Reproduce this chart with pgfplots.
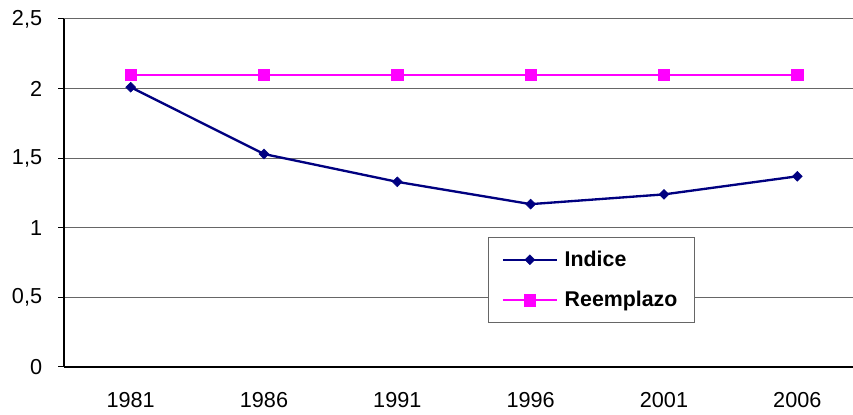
\documentclass[border=0pt]{standalone}
\usepackage{pgfplots}
\pgfplotsset{compat=1.18}
\usepackage{fontspec}
\setmainfont{Liberation Sans}
\definecolor{navyc}{RGB}{0,0,128}
\definecolor{magc}{RGB}{255,0,255}
\begin{document}
\begin{tikzpicture}
\path[use as bounding box] (0,0) rectangle (511.8pt,249pt);
\clip (0,0) rectangle (511.8pt,249pt);
\begin{axis}[
  at={(38.4pt,28.8pt)}, anchor=south west,
  scale only axis, width=480pt, height=208.8pt,
  xmin=-0.5, xmax=5.5, ymin=0, ymax=2.5,
  axis x line=bottom, axis y line=left,
  axis line style={-, black, line width=0.8pt},
  xtick={0,1,2,3,4,5},
  xticklabels={1981,1986,1991,1996,2001,2006},
  xtick style={draw=none},
  minor xtick={-0.5,0.5,1.5,2.5,3.5,4.5,5.5},
  minor x tick style={gray!70!black, line width=0.6pt},
  minor tick length=3pt,
  ytick={0,0.5,1,1.5,2,2.5},
  yticklabels={0,{0,5},1,{1,5},2,{2,5}},
  major tick length=3.6pt,
  tick align=outside,
  ytick style={black, line width=0.6pt},
  ymajorgrids,
  grid style={gray!80!black, line width=0.6pt},
  tick label style={font=\fontsize{13}{15}\selectfont},
  xticklabel style={yshift=-8pt},
  yticklabel style={xshift=-6pt},
  legend style={at={(0.53,0.3736)}, anchor=north west,
    draw=gray!80!black, line width=0.5pt,
    font=\fontsize{12.8}{15}\bfseries,
    inner xsep=8pt, inner ysep=6pt, row sep=9.5pt, column sep=2pt,
    cells={anchor=west}},
  legend image code/.code={%
    \draw[mark repeat=2,mark phase=2,#1] plot coordinates {(0pt,0pt) (16.2pt,0pt) (32.4pt,0pt)};},
]
\addplot[navyc, line width=1.4pt, mark=square*, mark size=2.1pt, mark options={rotate=45, fill=navyc, line width=0.3pt}]
  coordinates {(0,2.01) (1,1.53) (2,1.33) (3,1.17) (4,1.24) (5,1.37)};
\addlegendentry{Indice}
\addplot[magc, line width=1.4pt, mark=square*, mark size=3.4pt, mark options={fill=magc, line width=0.3pt}]
  coordinates {(0,2.1) (1,2.1) (2,2.1) (3,2.1) (4,2.1) (5,2.1)};
\addlegendentry{Reemplazo}
\end{axis}
\end{tikzpicture}
\end{document}
